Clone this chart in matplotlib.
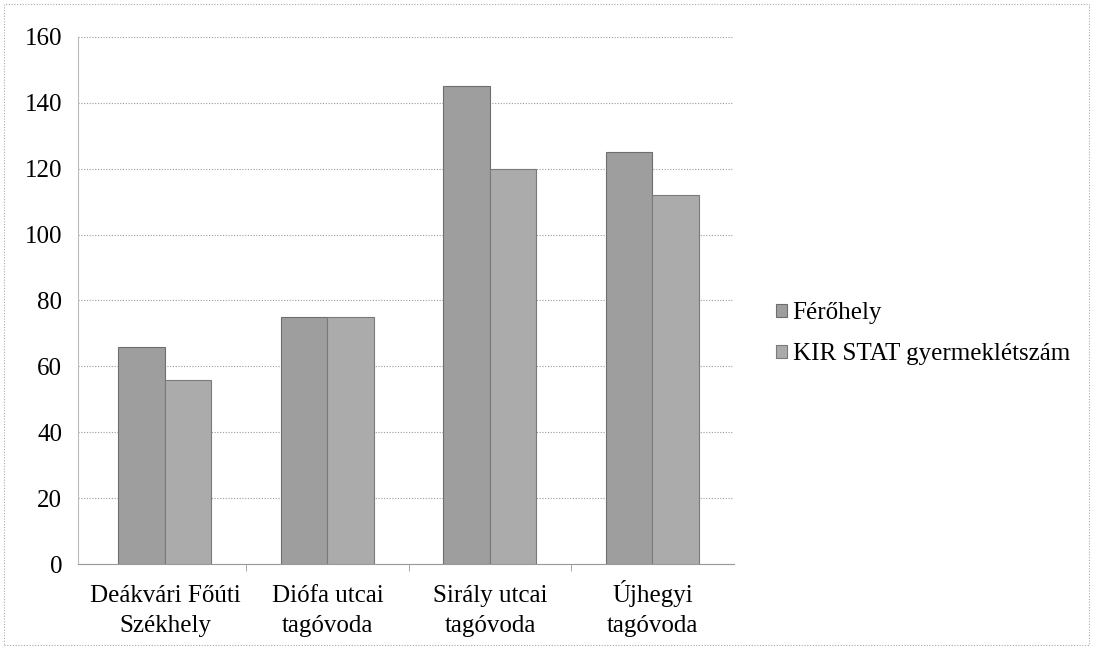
import matplotlib
matplotlib.use("Agg")
import matplotlib.pyplot as plt
import numpy as np
from matplotlib.patches import Rectangle

categories = ["Deákvári Főúti\nSzékhely", "Diófa utcai\ntagóvoda", "Sirály utcai\ntagóvoda", "Újhegyi\ntagóvoda"]
series_names = ["Férőhely", "KIR STAT gyermeklétszám"]
ferohely = [66, 75, 145, 125]
kir_stat = [56, 75, 120, 112]
yticks = [0, 20, 40, 60, 80, 100, 120, 140, 160]

plt.rcParams['font.family'] = ['Liberation Serif', 'DejaVu Serif']

fig = plt.figure(figsize=(10.93, 6.48), dpi=100)
ax = fig.add_axes([0.0714, 0.1296, 0.6006, 0.8134])

x = np.arange(len(categories))
w = 0.286
c1 = "#9e9e9e"
c2 = "#ababab"
ax.bar(x - w/2, ferohely, w, color=c1, edgecolor="#6e6e6e", linewidth=0.8, label=series_names[0], zorder=3)
ax.bar(x + w/2, kir_stat, w, color=c2, edgecolor="#7a7a7a", linewidth=0.8, label=series_names[1], zorder=3)

ax.set_xlim(-0.535, len(categories) - 0.495)
ax.set_ylim(0, 160)
ax.set_yticks(yticks)
ax.set_yticklabels([str(v) for v in yticks], fontsize=18)
ax.set_xticks(x)
ax.set_xticklabels(categories, fontsize=18, linespacing=1.45, va='baseline')
ax.tick_params(axis='x', length=0, pad=49)
ax.tick_params(axis='y', length=0, pad=11.5)
ax.set_xticks(np.arange(0.5, len(categories) - 1), minor=True)
ax.tick_params(axis='x', which='minor', length=5, color="#999999")

ax.grid(axis='y', linestyle=(0, (1, 1.5)), color="#9a9a9a", linewidth=0.8, zorder=0)
for s in ['top', 'right']:
    ax.spines[s].set_visible(False)
ax.spines['left'].set_color("#bbbbbb")
ax.spines['left'].set_linestyle((0, (1, 1)))
ax.spines['bottom'].set_color("#999999")
ax.spines['bottom'].set_linestyle((0, (1, 1)))

leg = fig.legend(loc='upper left', bbox_to_anchor=(0.689, 0.568), frameon=False,
                 fontsize=18, handlelength=0.44, handleheight=0.44, handletextpad=0.24,
                 labelspacing=0.75)

fig.patches.append(Rectangle((0.004, 0.004), 0.992, 0.99, transform=fig.transFigure,
                             fill=False, edgecolor="#aaaaaa", linewidth=0.8,
                             linestyle=(0, (1, 1.5))))

fig.savefig("out.png", dpi=100)
